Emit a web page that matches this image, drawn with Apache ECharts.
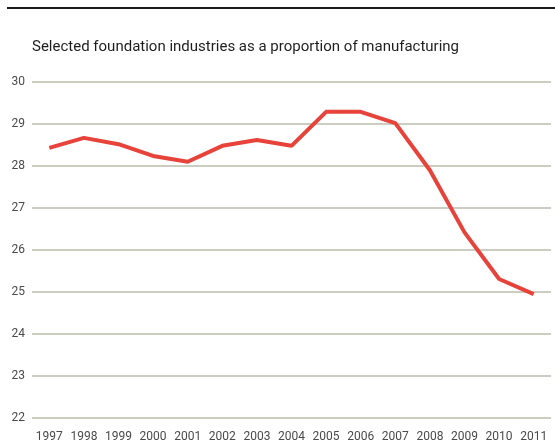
<!DOCTYPE html>
<html>
<head>
<meta charset="utf-8">
<script src="https://cdn.jsdelivr.net/npm/echarts@6/dist/echarts.min.js"></script>
<style>
  html, body { margin: 0; padding: 0; background: #ffffff; }
  #chart { width: 555px; height: 445px; }
</style>
</head>
<body>
<div id="chart"></div>
<script>
// Foundation industries share of manufacturing, by year
const years = ['1997', '1998', '1999', '2000', '2001', '2002', '2003', '2004',
               '2005', '2006', '2007', '2008', '2009', '2010', '2011'];
const share = [28.43, 28.67, 28.52, 28.24, 28.1, 28.48, 28.62, 28.48,
               29.29, 29.29, 29.02, 27.9, 26.42, 25.31, 24.95];
const yTicks = [22, 23, 24, 25, 26, 27, 28, 29, 30];

const chart = echarts.init(document.getElementById('chart'), null, { renderer: 'canvas' });
const textColor = '#4a4a4a';
const fontFamily = 'Roboto, "DejaVu Sans", sans-serif';

chart.setOption({
  animation: false,
  backgroundColor: '#ffffff',
  title: {
    text: 'Selected foundation industries as a proportion of manufacturing',
    left: 27,
    top: 35,
    textStyle: { fontSize: 15, fontWeight: 'normal', color: '#1e1e1e', fontFamily }
  },
  graphic: [{
    type: 'line',
    shape: { x1: 7, y1: 8, x2: 555, y2: 8 },
    style: { stroke: '#1a1a1a', lineWidth: 2 }
  }],
  grid: { left: 32, right: 4, top: 82, bottom: 27, containLabel: false },
  xAxis: {
    type: 'category',
    data: years,
    boundaryGap: true,
    axisLine: { show: false },
    axisTick: { show: false },
    axisLabel: { color: textColor, fontSize: 12, fontFamily, margin: 13, interval: 0 }
  },
  yAxis: {
    type: 'value',
    min: yTicks[0],
    max: yTicks[yTicks.length - 1],
    interval: 1,
    axisLine: { show: false },
    axisTick: { show: false },
    axisLabel: { color: textColor, fontSize: 12, fontFamily, margin: 7 },
    splitLine: { lineStyle: { color: '#b9bcaa', width: 1.5 } }
  },
  series: [{
    type: 'line',
    data: share,
    symbol: 'none',
    lineStyle: { color: '#e8433b', width: 4 },
    itemStyle: { color: '#e8433b' }
  }]
});
</script>
</body>
</html>
